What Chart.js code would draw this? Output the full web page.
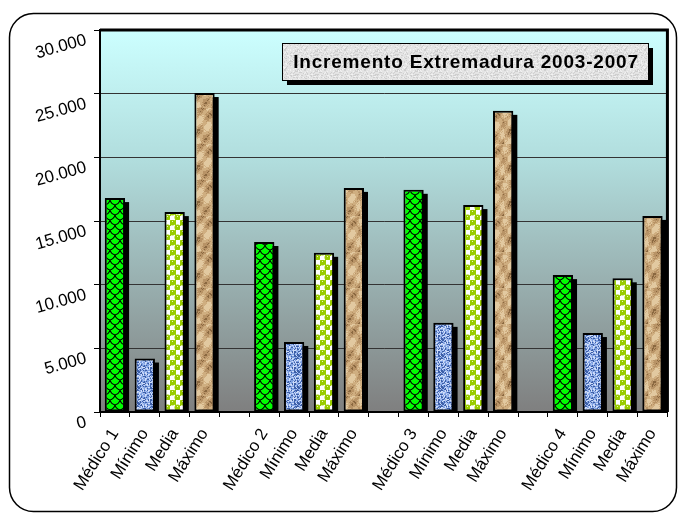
<!DOCTYPE html>
<html>
<head>
<meta charset="utf-8">
<script src="https://cdn.jsdelivr.net/npm/chart.js@4"></script>
<style>
  body { margin: 0; background: #fff; }
  #wrap { width: 678px; height: 515px; }
</style>
</head>
<body>
<div id="wrap"><canvas id="chart-1" width="678" height="515"></canvas></div>
<script>
// categories (empty strings are the gaps between groups)
const labels = ['Médico 1', 'Mínimo', 'Media', 'Máximo', '',
    'Médico 2', 'Mínimo', 'Media', 'Máximo', '',
    'Médico 3', 'Mínimo', 'Media', 'Máximo', '',
    'Médico 4', 'Mínimo', 'Media', 'Máximo']
const values = [16800, 4200, 15700, 25050, null,
    13350, 5500, 12500, 17600, null,
    17450, 7000, 16250, 23650, null,
    10750, 6200, 10500, 15400]
const kinds = ['medico', 'minimo', 'media', 'maximo', null,
    'medico', 'minimo', 'media', 'maximo', null,
    'medico', 'minimo', 'media', 'maximo', null,
    'medico', 'minimo', 'media', 'maximo']
const yTicks = [0, 5000, 10000, 15000, 20000, 25000, 30000]
const title = 'Incremento Extremadura 2003-2007'

const FONT = '"Liberation Sans", Arial, sans-serif'

// cheap deterministic noise for the textures
const noise = (x, y, s) => {
    const v = Math.sin(x * 12.9898 + y * 78.233 + s * 37.719) * 43758.5453;
    return v - Math.floor(v);
};

function makeTile(w, h, draw) {
    const c = document.createElement('canvas');
    c.width = w;
    c.height = h;
    draw(c.getContext('2d'), w, h);
    return document.getElementById('chart-1').getContext('2d').createPattern(c, 'repeat');
}

// green with black scales
const greenPat = makeTile(10, 10, (g, w, h) => {
    g.fillStyle = '#00ff00';
    g.fillRect(0, 0, w, h);
    g.strokeStyle = '#000';
    g.lineWidth = 1.1;
    g.beginPath();
    g.moveTo(0, 0); g.quadraticCurveTo(1, 4, 5, 5); g.quadraticCurveTo(9, 4, 10, 0);
    g.moveTo(5, 5); g.quadraticCurveTo(6, 9, 10, 10);
    g.moveTo(5, 5); g.quadraticCurveTo(4, 9, 0, 10);
    g.stroke();
});

// blue textured
const bluePat = makeTile(16, 16, (g, w, h) => {
    for (let y = 0; y < h; y++) {
        for (let x = 0; x < w; x++) {
            const n = noise(x, y, 1);
            g.fillStyle = n < 0.25 ? '#3d5fa8' : n < 0.55 ? '#7d9fe0' : n < 0.8 ? '#a4bdf0' : '#d0ddf8';
            g.fillRect(x, y, 1, 1);
        }
    }
});

// lime with white circles
const limePat = makeTile(10, 10, (g, w, h) => {
    g.fillStyle = '#ffffff';
    g.fillRect(0, 0, w, h);
    g.fillStyle = '#99cc00';
    g.beginPath(); g.arc(2.5, 2.5, 3, 0, Math.PI * 2); g.fill();
    g.beginPath(); g.arc(7.5, 7.5, 3, 0, Math.PI * 2); g.fill();
    g.fillRect(0, 4, 1, 2); g.fillRect(5, 0, 1, 10);
    g.fillStyle = '#e8f5c0';
    g.fillRect(2, 1, 1, 1); g.fillRect(7, 6, 1, 1);
});

// tan rock texture
const tanPat = makeTile(24, 36, (g, w, h) => {
    for (let y = 0; y < h; y++) {
        for (let x = 0; x < w; x++) {
            const s = Math.sin((x * 0.5 + y * 0.35)) * 0.5 + Math.sin(y * 0.25 - x * 0.2) * 0.5;
            const n = noise(x, y, 3) * 0.4 + s * 0.6;
            g.fillStyle = n < -0.35 ? '#8a6840' : n < 0.05 ? '#b89366' : n < 0.4 ? '#cfae80' : '#e2c9a0';
            g.fillRect(x, y, 1, 1);
        }
    }
});

// gray title texture
const grayPat = makeTile(20, 20, (g, w, h) => {
    for (let y = 0; y < h; y++) {
        for (let x = 0; x < w; x++) {
            const n = noise(x, y, 7);
            g.fillStyle = n < 0.2 ? '#cfcfcf' : n < 0.85 ? '#e4e4e4' : '#f2f2f2';
            g.fillRect(x, y, 1, 1);
        }
    }
});

const patterns = { medico: greenPat, minimo: bluePat, media: limePat, maximo: tanPat }
const barColors = kinds.map(k => k ? patterns[k] : 'rgba(0,0,0,0)')

const roundRect = (c, x, y, w, h, r) => {
    c.beginPath();
    c.moveTo(x + r, y);
    c.arcTo(x + w, y, x + w, y + h, r);
    c.arcTo(x + w, y + h, x, y + h, r);
    c.arcTo(x, y + h, x, y, r);
    c.arcTo(x, y, x + w, y, r);
    c.closePath();
};

// background, rounded frame and gradient plot area
const backgroundPlugin = {
    id: 'bg',
    beforeDraw(chart) {
        const c = chart.ctx;
        const a = chart.chartArea;
        c.save();
        c.fillStyle = '#fff';
        c.fillRect(0, 0, chart.width, chart.height);
        roundRect(c, 9.5, 13.5, 667, 498, 24);
        c.lineWidth = 1.5;
        c.strokeStyle = '#000';
        c.stroke();
        const grad = c.createLinearGradient(0, a.top, 0, a.bottom);
        grad.addColorStop(0, '#ccffff');
        grad.addColorStop(0.35, '#b0dcdc');
        grad.addColorStop(1, '#7f7f7f');
        c.fillStyle = grad;
        c.fillRect(a.left, a.top, a.right - a.left, a.bottom - a.top);
        c.restore();
    },
    beforeDatasetsDraw(chart) {
        // black drop shadow behind each bar
        const c = chart.ctx;
        const a = chart.chartArea;
        c.save();
        c.beginPath();
        c.rect(a.left, a.top, a.right - a.left, a.bottom - a.top);
        c.clip();
        c.fillStyle = '#000';
        chart.getDatasetMeta(0).data.forEach((bar, i) => {
            if (values[i] == null) return;
            const p = bar.getProps(['x', 'y', 'base', 'width'], true);
            c.fillRect(p.x - p.width / 2 + 4, p.y + 4, p.width, p.base - p.y);
        });
        c.restore();
    },
    afterDraw(chart) {
        const c = chart.ctx;
        const a = chart.chartArea;
        const y = chart.scales.y;
        c.save();
        // plot frame
        c.strokeStyle = '#000';
        c.lineWidth = 3;
        c.beginPath();
        c.moveTo(a.left, a.top);
        c.lineTo(a.right, a.top);
        c.lineTo(a.right, a.bottom);
        c.stroke();

        // slanted y labels
        c.fillStyle = '#000';
        c.font = '17px ' + FONT;
        c.textAlign = 'right';
        c.textBaseline = 'middle';
        yTicks.forEach(v => {
            const py = y.getPixelForValue(v);
            c.save();
            c.translate(86, py + 10);
            c.rotate(-0.27);
            c.fillText(v === 0 ? '0' : (v / 1000).toFixed(3), 0, 0);
            c.restore();
        });

        // title box
        const bx = 282, by = 43, bw = 366, bh = 37;
        c.fillStyle = '#000';
        c.fillRect(bx + 5, by + 5, bw, bh);
        c.fillStyle = grayPat;
        c.fillRect(bx, by, bw, bh);
        c.lineWidth = 1;
        c.strokeRect(bx + 0.5, by + 0.5, bw, bh);
        c.fillStyle = '#000';
        c.font = 'bold 19px ' + FONT;
        c.letterSpacing = '0.8px';
        c.textAlign = 'center';
        c.fillText(title, bx + bw / 2 + 1, by + bh / 2 + 1);
        c.restore();
    }
};

const ctx1 = document.getElementById('chart-1');

new Chart(ctx1, {
    type: 'bar',
    data: {
        labels: labels,
        datasets: [{
            data: values,
            backgroundColor: barColors,
            borderColor: '#000',
            borderWidth: 2,
            barPercentage: 0.68,
            categoryPercentage: 1,
            borderSkipped: false
        }]
    },
    options: {
        responsive: false,
        animation: false,
        layout: {
            padding: { top: 30, right: 8, left: 0, bottom: 0 }
        },
        plugins: {
            legend: { display: false },
            tooltip: { enabled: false }
        },
        scales: {
            x: {
                grid: {
                    offset: true,
                    drawOnChartArea: false,
                    drawTicks: true,
                    tickLength: 5,
                    color: '#000'
                },
                border: { color: '#000', width: 2 },
                ticks: {
                    autoSkip: false,
                    minRotation: 58,
                    maxRotation: 58,
                    color: '#000',
                    padding: 8,
                    font: { family: FONT, size: 17 }
                },
                afterFit: s => { s.height = 103; }
            },
            y: {
                min: 0,
                max: 30000,
                ticks: {
                    stepSize: 5000,
                    color: 'rgba(0,0,0,0)',
                    font: { size: 1 }
                },
                grid: {
                    color: '#333',
                    lineWidth: 1,
                    tickLength: 6,
                    tickColor: '#000'
                },
                border: { color: '#000', width: 2 },
                afterFit: s => { s.width = 100; }
            }
        }
    },
    plugins: [backgroundPlugin]
});
</script>
</body>
</html>
